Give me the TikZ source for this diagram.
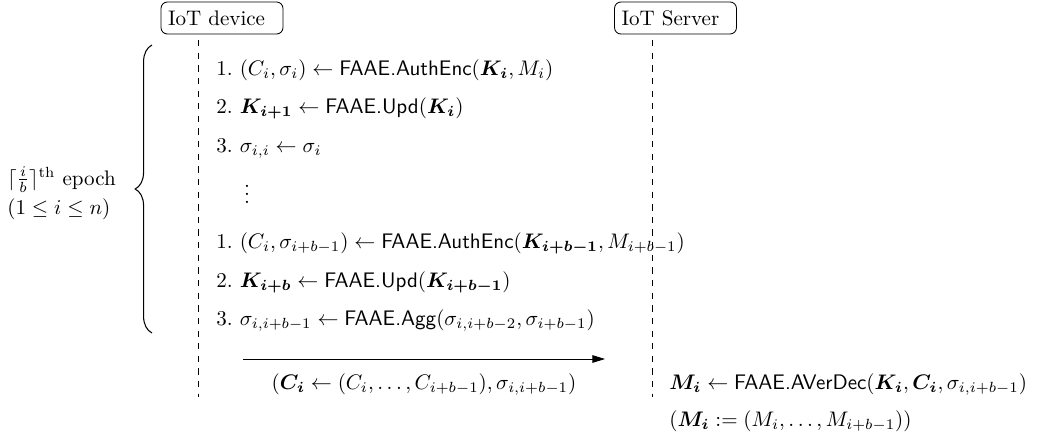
\documentclass[tikz,border=0pt]{standalone}
\usepackage{amsmath,amssymb}
\usetikzlibrary{arrows.meta,decorations.pathreplacing}
\frenchspacing
\begin{document}
\begin{tikzpicture}[x=0.475pt,y=-0.475pt,
  actor/.style={draw, rounded corners=3pt, inner xsep=3.3pt, inner ysep=0pt,
    minimum height=15.2pt, text width=51.3pt, align=left},
  life/.style={dashed, line width=0.4pt},
  txt/.style={anchor=base west, inner sep=0pt},
  msg/.style={-{Triangle[length=6pt,width=3.6pt]}, line width=0.4pt},
  bracestyle/.style={decorate, decoration={brace, amplitude=8pt}, line width=0.5pt}]
\useasboundingbox (0,0) rectangle (1048,436);
% actors
\node[actor] (dev) at (222,18) {IoT device};
\node[actor] (srv) at (675.5,18) {IoT Server};
% lifelines
\coordinate (devtop) at (198,40);
\coordinate (devbot) at (198,397);
\coordinate (srvtop) at (652,40);
\coordinate (srvbot) at (652,397);
\draw[life] (devtop) -- (devbot);
\draw[life] (srvtop) -- (srvbot);
% brace and epoch label
\coordinate (bb) at (152,333);
\coordinate (bt) at (152,45);
\draw[bracestyle] (bb) -- (bt);
\node[txt] (ep1) at (7,185) {$\lceil \frac{i}{b} \rceil^{\text{th}}$ epoch};
\node[txt] (ep2) at (7,214) {$(1 \leq i \leq n)$};
% device steps
\node[txt] (r1) at (216,75) {1. $(C_i, \sigma_i) \leftarrow \textsf{FAAE.AuthEnc}(\boldsymbol{K_i}, M_i)$};
\node[txt] (r2) at (216,113) {2. $\boldsymbol{K_{i+1}} \leftarrow \textsf{FAAE.Upd}(\boldsymbol{K_i})$};
\node[txt] (r3) at (216,152) {3. $\sigma_{i,i} \leftarrow \sigma_i$};
\node[inner sep=0pt] (dots) at (247,188) {$\vdots$};
\node[txt] (r4) at (216,248) {1. $(C_i, \sigma_{i+b-1}) \leftarrow \textsf{FAAE.AuthEnc}(\boldsymbol{K_{i+b-1}}, M_{i+b-1})$};
\node[txt] (r5) at (216,287) {2. $\boldsymbol{K_{i+b}} \leftarrow \textsf{FAAE.Upd}(\boldsymbol{K_{i+b-1}})$};
\node[txt] (r6) at (216,325) {3. $\sigma_{i,i+b-1} \leftarrow \textsf{FAAE.Agg}(\sigma_{i,i+b-2}, \sigma_{i+b-1})$};
% message
\coordinate (m1) at (243,359);
\coordinate (m2) at (605,359);
\draw[msg] (m1) -- (m2);
\node[anchor=base, inner sep=0pt] (mlab) at (424,389) {$(\boldsymbol{C_i} \leftarrow (C_i, \ldots, C_{i+b-1}), \sigma_{i,i+b-1})$};
% server steps
\node[txt] (s1) at (669,389) {$\boldsymbol{M_i} \leftarrow \textsf{FAAE.AVerDec}(\boldsymbol{K_i}, \boldsymbol{C_i}, \sigma_{i,i+b-1})$};
\node[txt] (s2) at (669,426) {$(\boldsymbol{M_i} := (M_i, \ldots, M_{i+b-1}))$};
\end{tikzpicture}
\end{document}
